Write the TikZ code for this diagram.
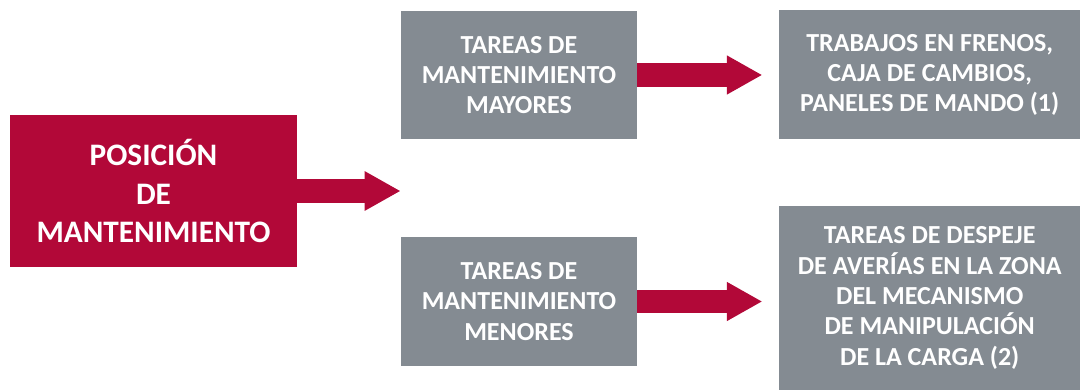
\documentclass[tikz,border=0pt]{standalone}
\usepackage{fontspec}
\setmainfont{Carlito}
\usetikzlibrary{arrows.meta, positioning}

\definecolor{posred}{RGB}{178,8,56}
\definecolor{taskgray}{RGB}{132,139,146}

\begin{document}
\begin{tikzpicture}[
  node distance=0cm,
  mainbox/.style={rectangle, fill=posred, text=white, minimum width=5.74cm, minimum height=3.04cm, font=\fontsize{17.8}{22}\selectfont\bfseries, align=center, inner sep=0pt},
  taskbox/.style={rectangle, fill=taskgray, text=white, minimum width=4.72cm, minimum height=2.57cm, font=\fontsize{14.8}{17.3}\selectfont\bfseries, align=center, inner sep=0pt},
  workbox/.style={taskbox, minimum width=6.04cm, minimum height=2.58cm},
  bigarrow/.style={draw=posred, line width=0.47cm, -{Triangle[length=0.71cm, width=0.73cm]}, shorten >=0.32cm}
]
\useasboundingbox (0,0) rectangle (21.6,-7.8);

% Left: position
\node[mainbox] (pos) at (3.07,-3.82) {POSICIÓN\\DE\\MANTENIMIENTO};

% Middle column
\node[taskbox] (mayores) at (10.38,-1.50) {TAREAS DE\\MANTENIMIENTO\\MAYORES};
\node[taskbox] (menores) at (10.38,-6.03) {TAREAS DE\\MANTENIMIENTO\\MENORES};

% Right column
\node[workbox, right=2.82cm of mayores] (frenos) {TRABAJOS EN FRENOS,\\CAJA DE CAMBIOS,\\PANELES DE MANDO (1)};
\node[workbox, minimum height=3.68cm, right=2.82cm of menores, yshift=0.07cm] (despeje) {TAREAS DE DESPEJE\\DE AVERÍAS EN LA ZONA\\DEL MECANISMO\\DE MANIPULACIÓN\\DE LA CARGA (2)};

% Arrows
\coordinate (split) at (mayores.west |- pos.east);
\draw[bigarrow, shorten >=0pt, line width=0.46cm, -{Triangle[length=0.72cm, width=0.74cm]}] (pos.east) -- (split);
\draw[bigarrow] (mayores.east) -- (mayores.east -| frenos.west);
\draw[bigarrow] (menores.east) -- (menores.east -| despeje.west);

\end{tikzpicture}
\end{document}
